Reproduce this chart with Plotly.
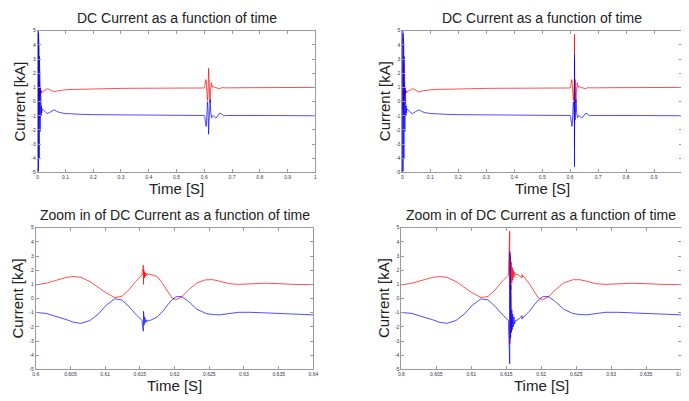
import plotly.graph_objects as go

W, H = 689, 401          # browser window
OFF = 8                  # default page margin around the plot div
FW, FH = W - OFF, H - OFF

# ---------------- data ----------------
# shared waveform of the DC current (time in s, current in kA)
t_base = [0.0000, 0.0004, 0.0008, 0.0012, 0.0016, 0.0020, 0.0024, 0.0028, 0.0032, 0.0036,
          0.0040, 0.0044, 0.0048, 0.0052, 0.0056, 0.0060, 0.0064, 0.0068, 0.0072, 0.0076,
          0.0080, 0.0085, 0.0090, 0.0095, 0.0100, 0.0105, 0.0110, 0.0118, 0.0126, 0.0135,
          0.0145, 0.0160, 0.0180, 0.0200,
          0.025, 0.030, 0.036, 0.042, 0.050, 0.059, 0.068, 0.080, 0.100, 0.130,
          0.160, 0.200, 0.250, 0.300, 0.350, 0.400, 0.450, 0.500, 0.550, 0.590,
          0.6000, 0.6015, 0.6030, 0.6045, 0.6055, 0.6065, 0.6078, 0.6090, 0.6102, 0.6114,
          0.6124, 0.6134, 0.6144, 0.6153, 0.6167, 0.6175, 0.6183, 0.6190, 0.6196, 0.6202,
          0.6210, 0.6220, 0.6232, 0.6245, 0.6255, 0.6265, 0.6278, 0.6292, 0.6310, 0.6330,
          0.6350, 0.6370, 0.6400,
          0.645, 0.650, 0.655, 0.660, 0.665, 0.670, 0.680, 0.700, 0.750, 0.800,
          0.850, 0.900, 0.950, 1.000]
red_base = [0.0, 1.2, -0.6, 2.5, -0.3, 4.5, 0.2, 3.0, -0.5, 2.4,
            -1.2, 2.0, -0.4, 1.6, 0.0, 1.4, 0.2, 1.2, 0.3, 1.1,
            0.4, 1.0, 0.5, 0.9, 0.5, 0.85, 0.55, 0.8, 0.6, 0.75,
            0.62, 0.68, 0.70, 0.74,
            0.80, 0.86, 0.91, 0.86, 0.75, 0.68, 0.74, 0.79, 0.83, 0.86,
            0.88, 0.90, 0.92, 0.93, 0.94, 0.95, 0.96, 0.96, 0.97, 0.97,
            0.96, 1.08, 1.30, 1.50, 1.55, 1.50, 1.20, 0.80, 0.38, 0.07,
            0.15, 0.60, 1.20, 1.65, 1.68, 1.55, 1.05, 0.50, 0.05, -0.08,
            0.10, 0.60, 1.10, 1.32, 1.33, 1.22, 1.05, 1.00, 1.05, 1.08,
            1.05, 1.00, 0.98,
            0.98, 0.95, 0.92, 0.95, 1.00, 0.97, 0.96, 0.97, 0.98, 0.98,
            0.99, 0.99, 0.99, 1.00]
blue_base = [0.0, 4.9, -5.0, 5.0, -5.0, 4.9, -4.9, 4.8, -4.8, 4.6,
             -4.7, 4.2, -4.4, 3.8, -4.0, 3.2, -3.5, 2.6, -3.0, 2.0,
             -2.6, 1.4, -2.1, 1.0, -1.6, 0.6, -1.3, 0.1, -1.0, -0.3,
             -0.8, -0.5, -0.55, -0.6,
             -0.70, -0.78, -0.84, -0.78, -0.65, -0.58, -0.68, -0.78, -0.84, -0.88,
             -0.90, -0.92, -0.93, -0.94, -0.95, -0.96, -0.96, -0.97, -0.97, -0.98,
             -0.98, -1.05, -1.25, -1.50, -1.68, -1.75, -1.55, -1.10, -0.45, -0.02,
             -0.10, -0.55, -1.10, -1.55, -1.50, -1.30, -0.90, -0.45, -0.10, 0.12,
             0.15, -0.20, -0.75, -1.05, -1.13, -1.15, -1.05, -0.97, -0.97, -1.00,
             -1.05, -1.10, -1.15,
             -1.10, -0.95, -0.82, -0.85, -0.95, -1.00, -0.98, -0.97, -0.98, -0.98,
             -0.99, -0.99, -0.99, -1.00]

# case A (left column): fault transient at t = 0.6155 s
spike_t_a = [0.61550, 0.61553, 0.61556, 0.61559, 0.61562, 0.61566, 0.61570, 0.61576,
             0.61584, 0.61594, 0.61606, 0.61620, 0.61635]
spike_red_a = [2.35, 1.00, 2.05, 1.30, 1.95, 1.45, 1.85, 1.55, 1.80, 1.62, 1.78, 1.68, 1.72]
spike_blue_a = [-2.30, -0.90, -2.00, -1.15, -1.85, -1.30, -1.75, -1.40, -1.70, -1.50,
                -1.62, -1.52, -1.55]

# case B (right column): larger fault transient at t = 0.6155 s
spike_t_b = [0.61550, 0.61552, 0.61554, 0.61556, 0.61558, 0.61560, 0.61562, 0.61565,
             0.61568, 0.61571, 0.61575, 0.61580, 0.61586, 0.61593, 0.61601, 0.61610,
             0.61620, 0.61632, 0.61725, 0.61728, 0.61731]
spike_red_b = [4.75, -3.20, 3.10, -1.00, 3.00, 0.20, 2.80, 0.60, 2.60, 0.90,
               2.40, 1.10, 2.20, 1.30, 2.00, 1.50, 1.85, 1.70, 1.45, 1.70, 1.55]
spike_blue_b = [-4.60, 3.30, -3.00, 3.00, -2.90, 2.40, -2.80, 1.00, -2.60, -0.30,
                -2.40, -0.80, -2.20, -1.10, -2.00, -1.30, -1.80, -1.55, -1.20, -1.45, -1.35]

x_full_ticks = [0, 0.1, 0.2, 0.3, 0.4, 0.5, 0.6, 0.7, 0.8, 0.9, 1.0]
x_full_labels = ["0", "0.1", "0.2", "0.3", "0.4", "0.5", "0.6", "0.7", "0.8", "0.9", "1"]
x_zoom_ticks = [0.6, 0.605, 0.61, 0.615, 0.62, 0.625, 0.63, 0.635, 0.64]
x_zoom_labels = ["0.6", "0.605", "0.61", "0.615", "0.62", "0.625", "0.63", "0.635", "0.64"]
y_ticks = [-5, -4, -3, -2, -1, 0, 1, 2, 3, 4, 5]
y_labels = ["-5", "-4", "-3", "-2", "-1", "0", "1", "2", "3", "4", "5"]

title_full = "DC Current as a function of time"
title_zoom = "Zoom in of DC Current as a function of time"
x_title = "Time [S]"
y_title = "Current [kA]"


def merge(t1, r1, b1, t2, r2, b2):
    rows = sorted(list(zip(t1, r1, b1)) + list(zip(t2, r2, b2)), key=lambda v: v[0])
    return [v[0] for v in rows], [v[1] for v in rows], [v[2] for v in rows]


t_a, red_a, blue_a = merge(t_base, red_base, blue_base, spike_t_a, spike_red_a, spike_blue_a)
t_b, red_b, blue_b = merge(t_base, red_base, blue_base, spike_t_b, spike_red_b, spike_blue_b)

# ---------------- figure ----------------
fig = go.Figure()

panels = [  # (suffix, t, red, blue)
    ("", t_a, red_a, blue_a),
    ("2", t_b, red_b, blue_b),
    ("3", t_a, red_a, blue_a),
    ("4", t_b, red_b, blue_b),
]
for suf, t, r, b in panels:
    fig.add_trace(go.Scatter(x=t, y=r, mode="lines", line=dict(color="rgb(255,0,0)", width=0.7),
                             xaxis="x" + suf, yaxis="y" + suf, showlegend=False, hoverinfo="skip"))
    fig.add_trace(go.Scatter(x=t, y=b, mode="lines", line=dict(color="rgb(0,0,255)", width=0.7),
                             xaxis="x" + suf, yaxis="y" + suf, showlegend=False, hoverinfo="skip"))


def px_x(p):
    return (p - OFF) / FW


def px_y(p):
    return 1 - (p - OFF) / FH


# plot boxes in window pixels: (left, right, top, bottom)
boxes = {
    "": (35, 316, 28, 172),
    "2": (404, 687, 28, 172),
    "3": (33, 314, 228, 372),
    "4": (403, 686, 228, 372),
}

axis_common = dict(showline=True, linecolor="#9a9a9a", linewidth=1, mirror="ticks",
                   ticks="inside", ticklen=3, tickcolor="#9a9a9a", tickwidth=1,
                   showgrid=False, zeroline=False,
                   tickfont=dict(family="Liberation Sans, Arial, sans-serif", size=5, color="#333355"))

layout_axes = {}
for suf, (l, r, t, b) in boxes.items():
    zoomed = suf in ("3", "4")
    xa = dict(axis_common)
    xa.update(domain=[px_x(l), min(1.0, px_x(r))], anchor="y" + suf,
              range=[0.6, 0.64] if zoomed else [0, 1],
              tickvals=x_zoom_ticks if zoomed else x_full_ticks,
              ticktext=x_zoom_labels if zoomed else x_full_labels)
    ya = dict(axis_common)
    ya.update(domain=[px_y(b), px_y(t)], anchor="x" + suf, range=[-5, 5],
              tickvals=y_ticks, ticktext=y_labels)
    layout_axes["xaxis" + suf] = xa
    layout_axes["yaxis" + suf] = ya

font_main = "Liberation Sans, Arial, sans-serif"
annotations = []
for suf, (l, r, t, b) in boxes.items():
    zoomed = suf in ("3", "4")
    cx = (l + r) / 2
    cy = (t + b) / 2
    annotations.append(dict(text=title_zoom if zoomed else title_full, x=px_x(cx), y=px_y(t - 13),
                            xref="paper", yref="paper", showarrow=False, xanchor="center",
                            yanchor="middle", font=dict(family=font_main, size=14, color="#222222")))
    annotations.append(dict(text=x_title, x=px_x(cx), y=px_y(b + 16), xref="paper", yref="paper",
                            showarrow=False, xanchor="center", yanchor="middle",
                            font=dict(family=font_main, size=15, color="#222222")))
    annotations.append(dict(text=y_title, x=px_x(l - 18), y=px_y(cy), xref="paper", yref="paper",
                            showarrow=False, xanchor="center", yanchor="middle", textangle=-90,
                            font=dict(family=font_main, size=15, color="#222222")))

fig.update_layout(width=FW, height=FH, margin=dict(l=0, r=0, t=0, b=0),
                  paper_bgcolor="white", plot_bgcolor="white",
                  annotations=annotations, **layout_axes)

fig.write_html("out.html")
